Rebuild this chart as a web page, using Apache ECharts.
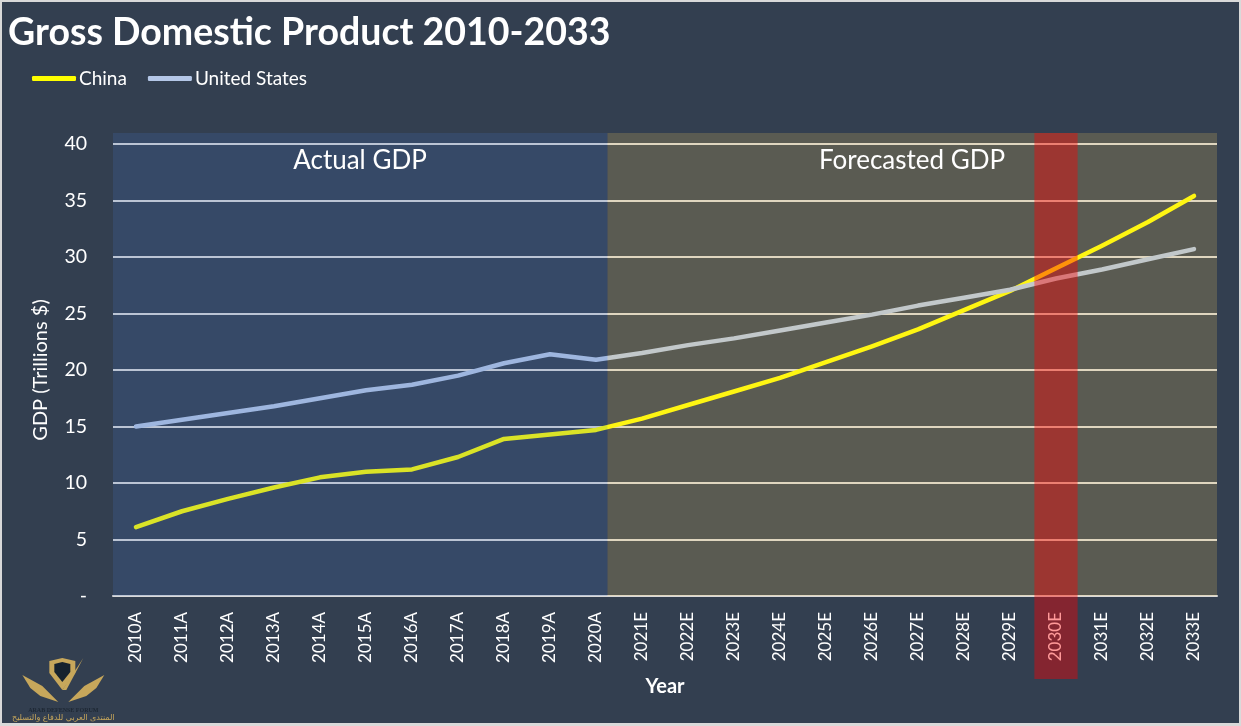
<!DOCTYPE html>
<html>
<head>
<meta charset="utf-8">
<style>
  html, body { margin: 0; padding: 0; background: #333f50; overflow: hidden; }
  #main { position: absolute; left: 0; top: 0; width: 1241px; height: 726px; }
  #frame { position: absolute; left: 0; top: 0; width: 1241px; height: 726px; box-sizing: border-box;
           border: solid #d9d9d9; border-width: 2px 2px 3px 2px; pointer-events: none; }
</style>
<script src="https://cdn.jsdelivr.net/npm/echarts@6/dist/echarts.min.js"></script>
</head>
<body>
<div id="main"></div>
<div id="frame"></div>
<script>
var FONT = 'Lato, "Open Sans", sans-serif';

var years = ['2010A', '2011A', '2012A', '2013A', '2014A', '2015A', '2016A', '2017A', '2018A', '2019A', '2020A',
  '2021E', '2022E', '2023E', '2024E', '2025E', '2026E', '2027E', '2028E', '2029E', '2030E', '2031E', '2032E', '2033E'];
var china = [6.1, 7.5, 8.6, 9.6, 10.5, 11.0, 11.2, 12.3, 13.9, 14.3, 14.7,
  15.7, 16.9, 18.1, 19.3, 20.7, 22.1, 23.6, 25.3, 27.0, 29.0, 31.0, 33.1, 35.4];
var unitedStates = [15.0, 15.6, 16.2, 16.8, 17.5, 18.2, 18.7, 19.5, 20.6, 21.4, 20.9,
  21.5, 22.2, 22.8, 23.5, 24.2, 24.9, 25.7, 26.4, 27.1, 28.1, 28.9, 29.8, 30.7];

// overlay bands: from / to in category units, bottom / top in GDP units
var bandFrom = [0, 10.75, 20.03];
var bandTo = [10.75, 24, 20.97];
var bandBottom = [0, 0, -7.35];
var bandTop = [40.97, 40.97, 40.97];
var bandColors = ['rgba(68,114,196,0.2)', 'rgba(250,205,90,0.2)', 'rgba(255,0,0,0.4)'];

var chart = echarts.init(document.getElementById('main'));

function renderBand(params, api) {
  var a = api.coord([api.value(0), api.value(3)]);
  var b = api.coord([api.value(1), api.value(2)]);
  return {
    type: 'rect',
    shape: { x: a[0], y: a[1], width: b[0] - a[0], height: b[1] - a[1] },
    style: { fill: bandColors[params.dataIndex] }
  };
}

chart.setOption({
  backgroundColor: '#333f50',
  animation: false,
  textStyle: { fontFamily: FONT },
  title: {
    text: 'Gross Domestic Product 2010-2033',
    left: 3,
    top: 9,
    textStyle: { color: '#fff', fontFamily: FONT, fontWeight: 'bold', fontSize: 37.5 }
  },
  legend: {
    data: ['China', 'United States'],
    left: 27,
    top: 64,
    icon: 'roundRect',
    itemWidth: 44,
    itemHeight: 5,
    itemGap: 21,
    textStyle: { color: '#fff', fontSize: 19, fontFamily: FONT, padding: [0, 0, 0, -2] }
  },
  grid: [
    { left: 113, top: 144, width: 1104, height: 452 },
    { left: 113, top: 133, width: 1104, height: 546 }
  ],
  xAxis: [
    {
      type: 'category',
      gridIndex: 0,
      data: years,
      boundaryGap: true,
      name: 'Year',
      nameLocation: 'middle',
      nameGap: 81,
      nameTextStyle: { color: '#fff', fontWeight: 'bold', fontSize: 20, fontFamily: FONT },
      axisLine: { show: true, lineStyle: { color: '#d9d9d9', width: 2 } },
      axisTick: { show: false },
      axisLabel: { color: '#fff', rotate: 90, fontSize: 17, margin: 16, interval: 0, fontFamily: FONT }
    },
    { type: 'value', gridIndex: 1, min: 0, max: 24, show: false }
  ],
  yAxis: [
    {
      type: 'value',
      gridIndex: 0,
      min: 0,
      max: 40,
      interval: 5,
      name: 'GDP (Trillions $)',
      nameLocation: 'middle',
      nameGap: 62,
      nameTextStyle: { color: '#fff', fontSize: 20, fontFamily: FONT },
      axisLine: { show: false },
      axisTick: { show: false },
      axisLabel: {
        color: '#fff',
        fontSize: 19.5,
        margin: 26,
        fontFamily: FONT,
        formatter: function (v) { return v === 0 ? '-' : v; }
      },
      splitLine: { show: true, lineStyle: { color: '#d9d9d9', width: 2 } }
    },
    { type: 'value', gridIndex: 1, min: -7.35, max: 40.97, show: false }
  ],
  graphic: [
    {
      type: 'text', z: 100, x: 360, y: 161,
      style: { text: 'Actual GDP', fill: '#fff', font: '26px ' + FONT, textAlign: 'center', textVerticalAlign: 'middle' }
    },
    {
      type: 'text', z: 100, x: 912, y: 161,
      style: { text: 'Forecasted GDP', fill: '#fff', font: '26px ' + FONT, textAlign: 'center', textVerticalAlign: 'middle' }
    },
    // rough forum logo, bottom left
    {
      type: 'group', left: 12, top: 658, z: 50,
      children: [
        { type: 'polygon', shape: { points: [[27, 3], [40, 0], [53, 3], [53, 15], [40, 32], [27, 15]] }, style: { fill: '#c7a75b' } },
        { type: 'polygon', shape: { points: [[32, 6], [40, 4], [48, 6], [48, 14], [40, 24], [32, 14]] }, style: { fill: '#16222e' } },
        { type: 'polygon', shape: { points: [[40, 32], [61, 0], [44, 32]] }, style: { fill: '#c7a75b' } },
        { type: 'polygon', shape: { points: [[0, 17], [20, 28], [36, 44], [18, 38], [8, 30]] }, style: { fill: '#c7a75b' } },
        { type: 'polygon', shape: { points: [[82, 17], [62, 28], [46, 44], [64, 38], [74, 30]] }, style: { fill: '#c7a75b' } },
        { type: 'text', x: 41, y: 52, style: { text: 'ARAB DEFENSE FORUM', fill: '#1d2733', font: 'bold 6px "Liberation Serif"', textAlign: 'center', textVerticalAlign: 'middle' } },
        { type: 'text', x: 41, y: 60, style: { text: 'المنتدى العربي للدفاع والتسليح', fill: '#c7a75b', font: '8px "DejaVu Sans"', textAlign: 'center', textVerticalAlign: 'middle' } }
      ]
    }
  ],
  series: [
    {
      name: 'China',
      type: 'line',
      xAxisIndex: 0,
      yAxisIndex: 0,
      z: 2,
      data: china,
      showSymbol: false,
      color: '#ffff00',
      lineStyle: { color: '#ffff00', width: 4.5, cap: 'round', join: 'round' }
    },
    {
      name: 'United States',
      type: 'line',
      xAxisIndex: 0,
      yAxisIndex: 0,
      z: 3,
      data: unitedStates,
      showSymbol: false,
      color: '#b4c7e7',
      lineStyle: { color: '#b4c7e7', width: 4.5, cap: 'round', join: 'round' }
    },
    {
      name: 'bands',
      type: 'custom',
      xAxisIndex: 1,
      yAxisIndex: 1,
      z: 10,
      silent: true,
      clip: false,
      renderItem: renderBand,
      encode: { x: [0, 1], y: [2, 3] },
      data: bandFrom.map(function (f, i) { return [f, bandTo[i], bandBottom[i], bandTop[i]]; })
    }
  ]
});
</script>
</body>
</html>
